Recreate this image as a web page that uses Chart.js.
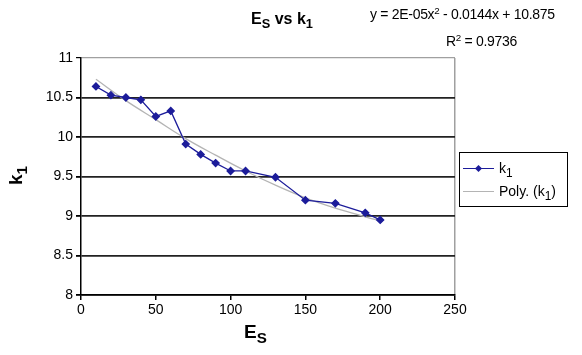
<!DOCTYPE html>
<html>
<head>
<meta charset="utf-8">
<script src="https://cdn.jsdelivr.net/npm/chart.js@4/dist/chart.umd.min.js"></script>
<style>
  body { margin: 0; background: #fff; }
  #wrap { position: relative; width: 582px; height: 355px; font-family: "Liberation Sans", Arial, sans-serif; color: #000; }
  #chart { position: absolute; left: 0; top: 0; }
  .txt { position: absolute; white-space: nowrap; line-height: 1; }
  .txt sub { font-size: 80%; vertical-align: -0.3em; line-height: 0; }
  .txt sup { font-size: 70%; vertical-align: 0.5em; line-height: 0; }
  #title { left: 251px; top: 11px; font-size: 16px; font-weight: bold; }
  #eq { left: 370px; top: 7px; font-size: 14px; letter-spacing: -0.3px; }
  #r2 { left: 446px; top: 34px; font-size: 14px; letter-spacing: -0.3px; }
  #ytitle { left: 6px; top: 166px; font-size: 19px; font-weight: bold; transform: rotate(-90deg); transform-origin: 50% 50%; }
  #xtitle { left: 244px; top: 322px; font-size: 19px; font-weight: bold; }
  #legend { position: absolute; left: 459px; top: 152px; width: 107px; height: 53px; border: 1.5px solid #000; font-size: 14px; }
  .row { position: absolute; left: 3px; height: 20px; }
  .sw { position: absolute; left: 0; top: 9px; width: 31px; height: 0; }
  .row .t { position: absolute; left: 36px; top: 1px; white-space: nowrap; }
  .row sub { font-size: 85%; vertical-align: -0.3em; line-height: 0; }
  .dia { position: absolute; left: 13px; top: -3px; width: 5px; height: 5px; background: #1c1c9a; transform: rotate(45deg); }
</style>
</head>
<body>
<div id="wrap">
  <canvas id="chart" width="582" height="355"></canvas>
  <div class="txt" id="title">E<sub>S</sub> vs k<sub>1</sub></div>
  <div class="txt" id="eq">y = 2E-05x<sup>2</sup> - 0.0144x + 10.875</div>
  <div class="txt" id="r2">R<sup>2</sup> = 0.9736</div>
  <div class="txt" id="ytitle">k<sub>1</sub></div>
  <div class="txt" id="xtitle">E<sub>S</sub></div>
  <div id="legend">
    <div class="row" style="top:6px;">
      <div class="sw" style="border-top:1.5px solid #1c1c9a;"><div class="dia"></div></div>
      <div class="t">k<sub>1</sub></div>
    </div>
    <div class="row" style="top:29px;">
      <div class="sw" style="border-top:1.5px solid #b4b4b4;"></div>
      <div class="t">Poly. (k<sub>1</sub>)</div>
    </div>
  </div>
</div>
<script>
// values
const esValues = [10, 20, 30, 40, 50, 60, 70, 80, 90, 100, 110, 130, 150, 170, 190, 200];
const k1Values = [10.64, 10.53, 10.50, 10.47, 10.26, 10.33, 9.91, 9.78, 9.67, 9.57, 9.57, 9.49, 9.20, 9.16, 9.04, 8.95];

// polynomial trendline, read at a few points along the grey curve
const polyEs = [10, 30, 50, 70, 90, 110, 130, 150, 170, 190, 200];
const polyK1 = [10.73, 10.46, 10.22, 9.98, 9.77, 9.57, 9.39, 9.23, 9.10, 8.99, 8.94];

const xTicks = [0, 50, 100, 150, 200, 250];
const yTicks = [8, 8.5, 9, 9.5, 10, 10.5, 11];

const toPoints = (xs, ys) => xs.map((x, i) => ({ x: x, y: ys[i] }));
const tickFont = { family: '"Liberation Sans", Arial, sans-serif', size: 14 };

new Chart(document.getElementById('chart').getContext('2d'), {
  type: 'scatter',
  data: {
    datasets: [
      {
        label: 'k1',
        data: toPoints(esValues, k1Values),
        showLine: true,
        borderColor: '#1c1c9a',
        backgroundColor: '#1c1c9a',
        borderWidth: 1.3,
        pointStyle: 'rectRot',
        pointRadius: 3.5,
        order: 1
      },
      {
        label: 'Poly. (k1)',
        data: toPoints(polyEs, polyK1),
        showLine: true,
        borderColor: '#b4b4b4',
        borderWidth: 1.3,
        pointRadius: 0,
        tension: 0.4,
        order: 2
      }
    ]
  },
  options: {
    responsive: false,
    animation: false,
    layout: { padding: { left: 0, top: 58, right: 127, bottom: 0 } },
    plugins: {
      legend: { display: false },
      tooltip: { enabled: false }
    },
    scales: {
      x: {
        type: 'linear',
        min: xTicks[0],
        max: xTicks[xTicks.length - 1],
        afterFit: s => { s.height = 60 },
        afterBuildTicks: s => { s.ticks = xTicks.map(v => ({ value: v })) },
        ticks: { color: '#000', font: tickFont, padding: 2, maxRotation: 0, callback: v => String(v) },
        grid: {
          color: c => (c.tick && c.tick.value === 250) ? '#a0a0a0' : 'rgba(0,0,0,0)',
          tickColor: '#000',
          tickLength: 5,
          lineWidth: 1.5
        },
        border: { color: '#000', width: 1.5 }
      },
      y: {
        min: yTicks[0],
        max: yTicks[yTicks.length - 1],
        afterFit: s => { s.width = 81 },
        afterBuildTicks: s => { s.ticks = yTicks.map(v => ({ value: v })) },
        ticks: { color: '#000', font: tickFont, padding: 3, callback: v => String(v) },
        grid: {
          color: c => (c.tick && c.tick.value === 11) ? '#a0a0a0' : '#222',
          tickColor: '#000',
          tickLength: 5,
          lineWidth: c => (c.tick && c.tick.value === 11) ? 1.2 : 1.8
        },
        border: { color: '#000', width: 1.5 }
      }
    }
  }
})
</script>
</body>
</html>
